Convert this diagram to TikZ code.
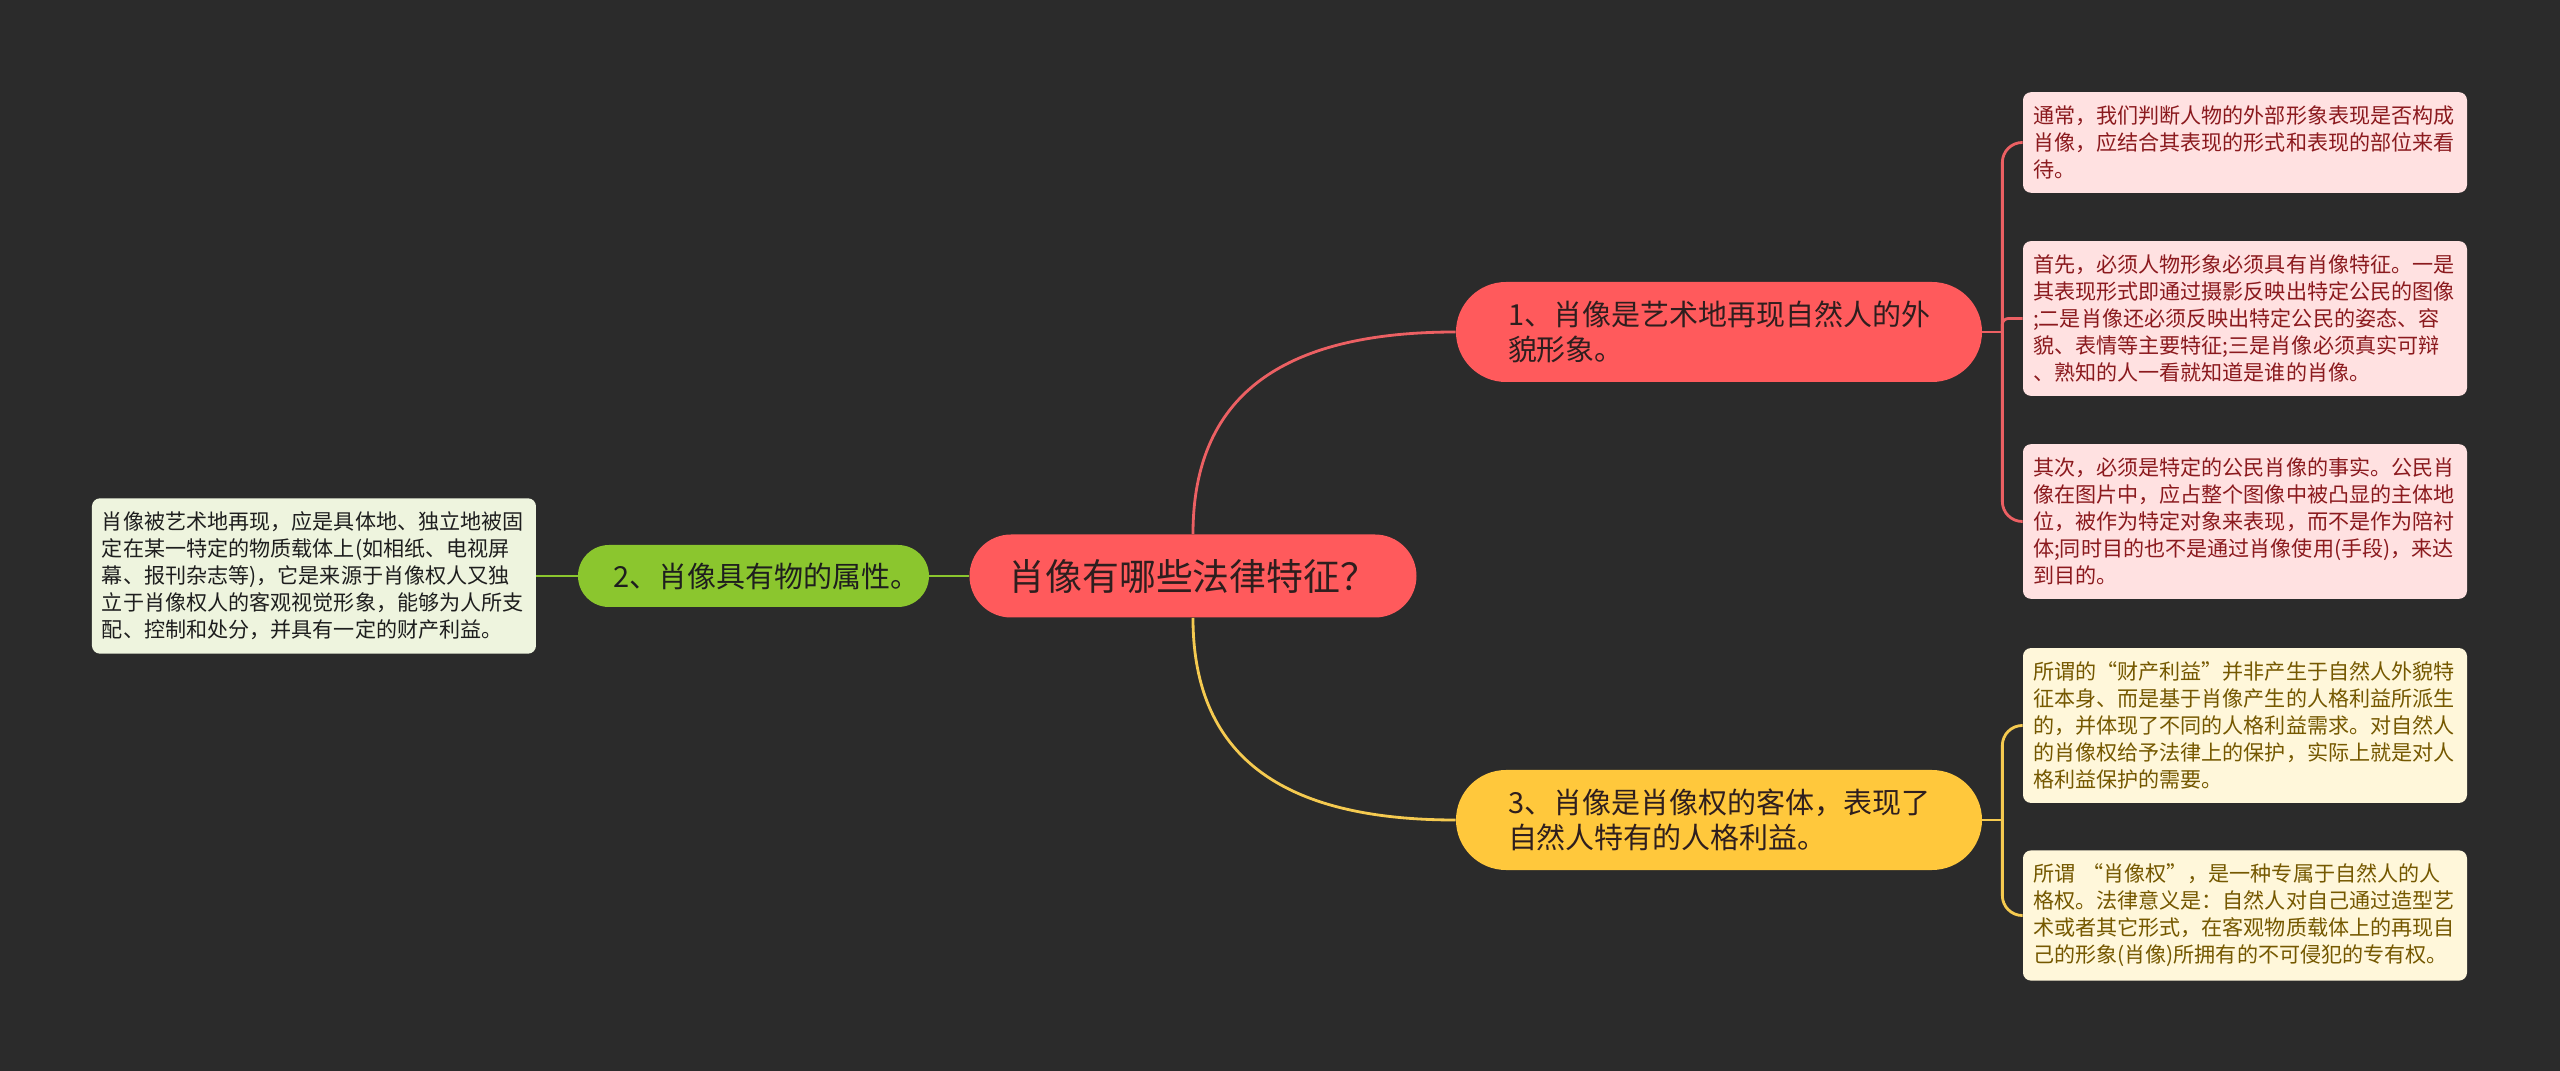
\documentclass[tikz,border=0pt]{standalone}
\usepackage{fontspec}
\setmainfont{Noto Sans CJK SC}
\usepackage{xcolor}
\usepackage{tikz}
\usetikzlibrary{positioning}

\definecolor{bgdark}{HTML}{2B2B2B}
\definecolor{hubred}{HTML}{FF5A5C}
\definecolor{redline}{HTML}{EC6063}
\definecolor{greenfill}{HTML}{8BC62E}
\definecolor{yellowfill}{HTML}{FFC83C}
\definecolor{yellowline}{HTML}{F5CA50}
\definecolor{pinkleaf}{HTML}{FFE1E1}
\definecolor{pinktext}{HTML}{8B1A1E}
\definecolor{creamleaf}{HTML}{FFF7DA}
\definecolor{creamtext}{HTML}{755800}
\definecolor{mintleaf}{HTML}{EEF4DE}
\definecolor{minttext}{HTML}{1E1E1E}
\definecolor{darktext}{HTML}{2E1E1E}

\begin{document}
\begin{tikzpicture}[
  node distance=8.79cm,
  hub/.style={rectangle, fill=hubred, rounded corners=0.83cm, minimum width=8.94cm, minimum height=1.66cm, align=center, text=darktext, font=\fontsize{21}{25}\selectfont},
  branch/.style={rectangle, rounded corners=1cm, minimum height=2cm, text width=8.44cm, inner xsep=1.04cm, inner ysep=0pt, align=left, text=darktext, font=\fontsize{16.5}{19.5}\selectfont},
  leaf/.style={rectangle, rounded corners=0.16cm, text width=8.48cm, inner xsep=0.2cm, inner ysep=0.27cm, align=left, font=\fontsize{12}{15.4}\selectfont},
  link/.style={line width=1.6pt}
]
\fill[bgdark] (-23.86,-9.9) rectangle (27.34,11.52);
\useasboundingbox (-23.86,-9.9) rectangle (27.34,11.52);

\node[hub] (portrait) at (0,0) {肖像有哪些法律特征？};

% branches
\node[branch, fill=hubred, right of=portrait, xshift=1.73cm, yshift=4.88cm] (art) {1、肖像是艺术地再现自然人的外\\貌形象。};
\node[branch, fill=greenfill, left of=portrait, text width=5.6cm, inner xsep=0.71cm, minimum height=1.24cm, rounded corners=0.62cm, align=center, text=minttext] (thing) {2、肖像具有物的属性。};
\node[branch, fill=yellowfill, right of=portrait, xshift=1.73cm, yshift=-4.88cm] (object) {3、肖像是肖像权的客体，表现了\\自然人特有的人格利益。};

% leaves
\node[leaf, fill=pinkleaf, text=pinktext, right of=art, xshift=1.73cm, yshift=3.79cm] (judge) {通常，我们判断人物的外部形象表现是否构成\\肖像，应结合其表现的形式和表现的部位来看\\待。};
\node[leaf, fill=pinkleaf, text=pinktext, right of=art, xshift=1.73cm, yshift=0.27cm] (feature) {首先，必须人物形象必须具有肖像特征。一是\\其表现形式即通过摄影反映出特定公民的图像\\;二是肖像还必须反映出特定公民的姿态、容\\貌、表情等主要特征;三是肖像必须真实可辩\\、熟知的人一看就知道是谁的肖像。};
\node[leaf, fill=pinkleaf, text=pinktext, right of=art, xshift=1.73cm, yshift=-3.79cm] (fact) {其次，必须是特定的公民肖像的事实。公民肖\\像在图片中，应占整个图像中被凸显的主体地\\位，被作为特定对象来表现，而不是作为陪衬\\体;同时目的也不是通过肖像使用(手段)，来达\\到目的。};
\node[leaf, fill=mintleaf, text=minttext, left of=thing] (reproduce) {肖像被艺术地再现，应是具体地、独立地被固\\定在某一特定的物质载体上(如相纸、电视屏\\幕、报刊杂志等)，它是来源于肖像权人又独\\立于肖像权人的客观视觉形象，能够为人所支\\配、控制和处分，并具有一定的财产利益。};
\node[leaf, fill=creamleaf, text=creamtext, right of=object, xshift=1.73cm, yshift=1.89cm] (property) {所谓的“财产利益”并非产生于自然人外貌特\\征本身、而是基于肖像产生的人格利益所派生\\的，并体现了不同的人格利益需求。对自然人\\的肖像权给予法律上的保护，实际上就是对人\\格利益保护的需要。};
\node[leaf, fill=creamleaf, text=creamtext, right of=object, xshift=1.73cm, yshift=-1.91cm] (right) {所谓 “肖像权”，是一种专属于自然人的人\\格权。法律意义是：自然人对自己通过造型艺\\术或者其它形式，在客观物质载体上的再现自\\己的形象(肖像)所拥有的不可侵犯的专有权。};

% links from the centre
\draw[link, redline] (portrait.north) .. controls +(0,2.9) and +(-3.3,0) .. (art.west);
\draw[link, yellowline] (portrait.south) .. controls +(0,-2.9) and +(-3.3,0) .. (object.west);
\draw[link, greenfill] (portrait.west) -- (thing.east);
\draw[link, greenfill] (thing.west) -- (reproduce.east);

% brackets
\coordinate (artfork) at ([xshift=0.4cm]art.east);
\draw[link, redline] (art.east) -- (artfork);
\draw[link, redline, rounded corners=0.4cm] (artfork) |- (judge.west);
\draw[link, redline, rounded corners=0.12cm] (artfork) |- (feature.west);
\draw[link, redline, rounded corners=0.4cm] (artfork) |- (fact.west);

\coordinate (objectfork) at ([xshift=0.4cm]object.east);
\draw[link, yellowline] (object.east) -- (objectfork);
\draw[link, yellowline, rounded corners=0.4cm] (objectfork) |- (property.west);
\draw[link, yellowline, rounded corners=0.4cm] (objectfork) |- (right.west);
\end{tikzpicture}
\end{document}
